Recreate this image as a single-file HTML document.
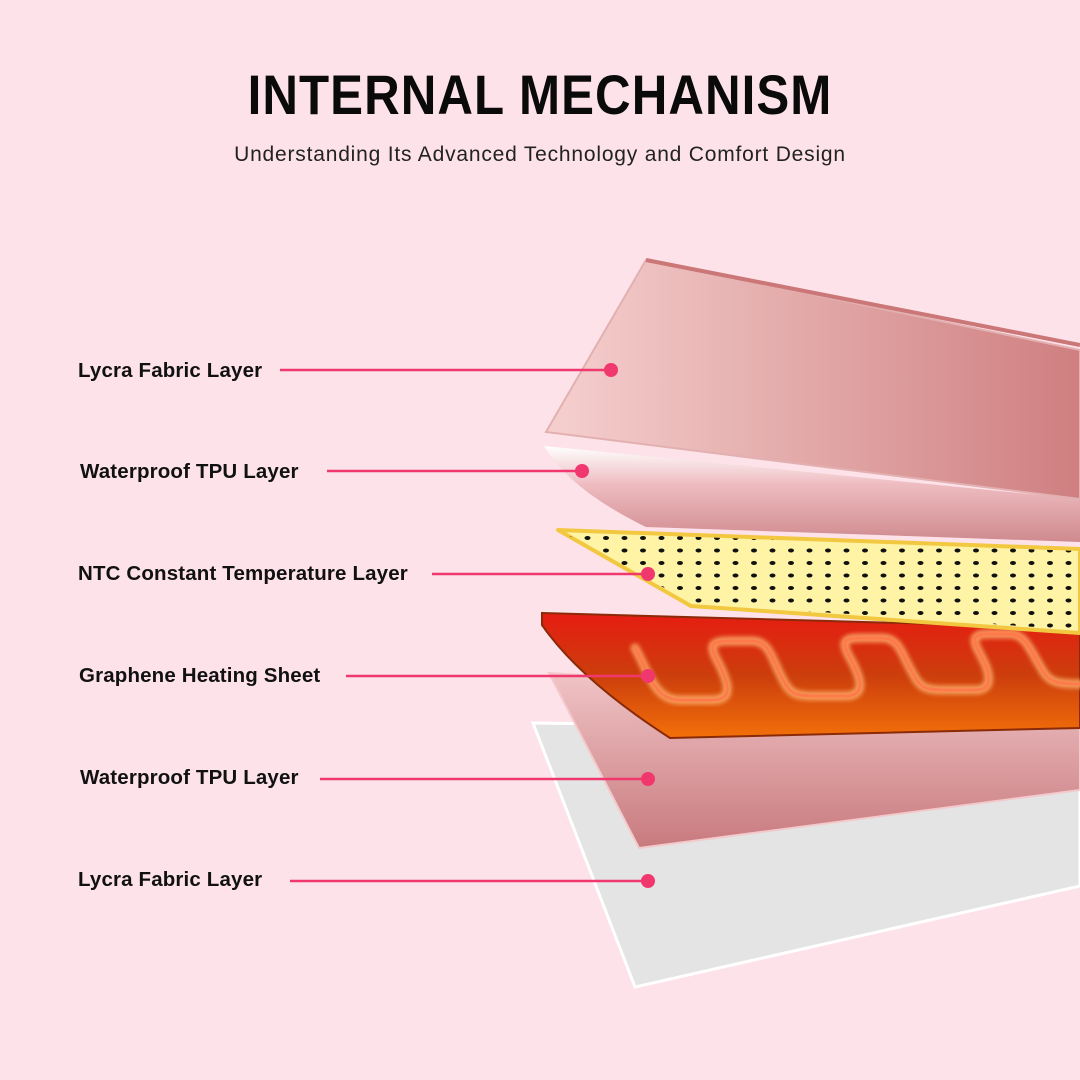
<!DOCTYPE html>
<html><head><meta charset="utf-8"><style>
body{margin:0;width:1080px;height:1080px;background:#fde2ea;overflow:hidden;font-family:"Liberation Sans",sans-serif}
.t{position:absolute;left:0;width:1080px;text-align:center}
</style></head><body>
<div class="t" style="top:62px;font-size:56px;font-weight:bold;letter-spacing:1.2px;color:#0a0a0a;transform:scaleX(0.88)">INTERNAL MECHANISM</div>
<div class="t" style="top:143px;font-size:21px;color:#222;letter-spacing:0.8px">Understanding Its Advanced Technology and Comfort Design</div>
<svg width="1080" height="1080" style="position:absolute;left:0;top:0">
<defs>
<linearGradient id="g1" x1="0" x2="1" y1="0" y2="0"><stop offset="0" stop-color="#f5d0cf"/><stop offset="1" stop-color="#cf7f80"/></linearGradient>
<linearGradient id="g2" x1="0" x2="0" y1="0" y2="1"><stop offset="0" stop-color="#fff"/><stop offset="0.4" stop-color="#eebcc0"/><stop offset="1" stop-color="#cf8a8e"/></linearGradient>
<linearGradient id="g4" x1="0" x2="0" y1="0" y2="1"><stop offset="0" stop-color="#e61c12"/><stop offset="0.5" stop-color="#cc3e0c"/><stop offset="1" stop-color="#f2700a"/></linearGradient>
<linearGradient id="g5" x1="0" x2="0" y1="0" y2="1"><stop offset="0" stop-color="#f0c4c6"/><stop offset="1" stop-color="#c87a7e"/></linearGradient>
<pattern id="dots" width="18.5" height="12.5" patternUnits="userSpaceOnUse" x="560" y="532"><ellipse cx="9" cy="6" rx="3" ry="2" fill="#111"/></pattern>
<filter id="gl"><feGaussianBlur stdDeviation="2"/></filter>
</defs>
<polygon points="533,723 1080,730 1080,886 635,987" fill="#e4e4e4" stroke="#fff" stroke-width="3"/>
<polygon points="549,673 1080,705 1080,790 639,848" fill="url(#g5)" stroke="#f3c9cb" stroke-width="2"/>
<path d="M542,613 L1080,628 L1080,728 L670,738 Q580,680 542,625 Z" fill="url(#g4)" stroke="#8a2a08" stroke-width="2"/>
<g fill="none" stroke-linecap="round">
<path d="M635,648 C650,675 655,700 680,700 L712,700 C735,700 728,682 718,662 C708,644 712,641 730,641 L752,641 C770,641 772,660 782,678 C790,694 795,696 815,696 L845,696 C868,696 860,676 850,658 C840,640 845,638 862,638 L882,638 C900,638 902,656 912,672 C920,688 925,690 945,690 L975,690 C995,690 990,672 980,654 C970,636 975,634 992,634 L1010,634 C1025,634 1030,650 1040,666 C1048,682 1055,684 1080,684" stroke="#ffb070" stroke-width="9" filter="url(#gl)" opacity="0.8"/>
<path d="M635,648 C650,675 655,700 680,700 L712,700 C735,700 728,682 718,662 C708,644 712,641 730,641 L752,641 C770,641 772,660 782,678 C790,694 795,696 815,696 L845,696 C868,696 860,676 850,658 C840,640 845,638 862,638 L882,638 C900,638 902,656 912,672 C920,688 925,690 945,690 L975,690 C995,690 990,672 980,654 C970,636 975,634 992,634 L1010,634 C1025,634 1030,650 1040,666 C1048,682 1055,684 1080,684" stroke="#ff7a4a" stroke-width="3"/>
</g>
<polygon points="558,530 1080,549 1080,633 691,606" fill="#fff4a6" stroke="#f2c840" stroke-width="4" stroke-linejoin="round"/>
<polygon points="562,532 1078,551 1078,630 692,603" fill="url(#dots)"/>
<path d="M544,446 L1080,499 L1080,542 L646,527 Q570,490 544,446 Z" fill="url(#g2)"/>
<polygon points="646,260 1080,350 1080,499 546,432" fill="url(#g1)" stroke="#e2b0b0" stroke-width="2"/>
<line x1="646" y1="260" x2="1080" y2="345" stroke="#c77" stroke-width="4"/>
<g stroke="#f0386f" stroke-width="2.5">
<line x1="280" y1="370" x2="611" y2="370"/><line x1="327" y1="471" x2="582" y2="471"/>
<line x1="432" y1="574" x2="648" y2="574"/><line x1="346" y1="676" x2="648" y2="676"/>
<line x1="320" y1="779" x2="648" y2="779"/><line x1="290" y1="881" x2="648" y2="881"/>
</g>
<g fill="#f0386f">
<circle cx="611" cy="370" r="7"/><circle cx="582" cy="471" r="7"/><circle cx="648" cy="574" r="7"/>
<circle cx="648" cy="676" r="7"/><circle cx="648" cy="779" r="7"/><circle cx="648" cy="881" r="7"/>
</g>
<g font-family="Liberation Sans, sans-serif" font-weight="bold" font-size="20.5" fill="#111" letter-spacing="0.15">
<text x="78" y="377">Lycra Fabric Layer</text>
<text x="80" y="478">Waterproof TPU Layer</text>
<text x="78" y="580">NTC Constant Temperature Layer</text>
<text x="79" y="682">Graphene Heating Sheet</text>
<text x="80" y="784">Waterproof TPU Layer</text>
<text x="78" y="886">Lycra Fabric Layer</text>
</g>
</svg>
</body></html>
